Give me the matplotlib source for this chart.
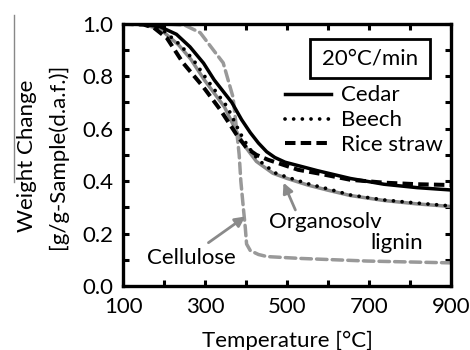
import matplotlib
matplotlib.use("Agg")
import matplotlib.pyplot as plt
from matplotlib.lines import Line2D
from matplotlib.patches import Rectangle
from matplotlib.ticker import MultipleLocator

plt.rcParams["font.family"] = ["Lato", "DejaVu Sans"]

# TG curves at 20 C/min, weight fraction on a dry ash-free basis
cedar_t = [100, 150, 190, 230, 263, 296, 322, 345, 365, 389, 410, 430, 450, 470, 495, 544, 573, 654, 736, 817, 900]
cedar_w = [1.0, 0.998, 0.989, 0.96, 0.912, 0.85, 0.786, 0.74, 0.70, 0.634, 0.585, 0.545, 0.512, 0.49, 0.472, 0.452, 0.44, 0.41, 0.388, 0.375, 0.366]

beech_t = [100, 150, 190, 239, 271, 305, 354, 385, 405, 430, 471, 500, 550, 600, 654, 736, 817, 900]
beech_w = [1.0, 0.998, 0.985, 0.92, 0.863, 0.786, 0.683, 0.584, 0.531, 0.48, 0.431, 0.415, 0.39, 0.37, 0.347, 0.328, 0.316, 0.305]

rice_t = [100, 150, 175, 207, 246, 295, 337, 380, 402, 425, 454, 527, 573, 654, 736, 817, 900]
rice_w = [1.0, 0.997, 0.985, 0.945, 0.851, 0.76, 0.672, 0.569, 0.525, 0.50, 0.481, 0.443, 0.43, 0.405, 0.394, 0.388, 0.385]

lignin_t = [100, 150, 190, 235, 265, 298, 347, 378, 398, 425, 465, 500, 550, 600, 654, 736, 817, 900]
lignin_w = [1.0, 0.997, 0.98, 0.92, 0.865, 0.786, 0.683, 0.584, 0.531, 0.475, 0.43, 0.41, 0.385, 0.365, 0.345, 0.326, 0.313, 0.303]

cellulose_t = [100, 200, 250, 288, 320, 344, 368, 375, 383, 387, 393, 398, 401, 410, 430, 451, 532, 695, 900]
cellulose_w = [1.0, 1.0, 0.995, 0.966, 0.90, 0.851, 0.72, 0.62, 0.50, 0.40, 0.30, 0.22, 0.16, 0.135, 0.12, 0.112, 0.105, 0.095, 0.088]

x_ticks = [100, 300, 500, 700, 900]
y_ticks = [0.0, 0.2, 0.4, 0.6, 0.8, 1.0]

FS = 16
GRAY = "#8a8a8a"

fig = plt.figure(figsize=(4.7, 3.5), dpi=100)
ax = fig.add_axes([0.262, 0.183, 0.698, 0.749])

ax.plot(lignin_t, lignin_w, color=GRAY, lw=2.5, solid_capstyle="round")
ax.plot(cellulose_t, cellulose_w, color="#999999", lw=2.5,
        linestyle=(0, (3.0, 1.5)), dash_capstyle="round")
ax.plot(cedar_t, cedar_w, color="black", lw=2.5, label="Cedar")
ax.plot(beech_t, beech_w, color="black", lw=2.7,
        linestyle=(0, (0.01, 2.3)), dash_capstyle="round", label="Beech")
ax.plot(rice_t, rice_w, color="black", lw=2.9,
        linestyle=(0, (2.6, 1.3)), label="Rice straw")

ax.set_xlim(100, 900)
ax.set_ylim(0, 1.0)
ax.set_xticks(x_ticks)
ax.set_yticks(y_ticks)
ax.set_yticklabels([f"{v:.1f}" for v in y_ticks])
ax.xaxis.set_minor_locator(MultipleLocator(100))
ax.yaxis.set_minor_locator(MultipleLocator(0.1))
ax.tick_params(which="both", direction="in", top=True, right=True,
               length=4.5, width=2.2, labelsize=FS)
ax.tick_params(axis="y", pad=7)
ax.tick_params(axis="x", pad=8)
for sp in ax.spines.values():
    sp.set_linewidth(2.4)

ax.set_xlabel("Temperature [°C]", fontsize=FS, labelpad=10)

# two-line y label, each line placed on its own
fig.text(27 / 470, 1 - 156 / 350, "Weight Change", fontsize=FS,
         rotation=90, ha="center", va="center")
fig.text(58 / 470, 1 - 156 / 350, "[g/g-Sample(d.a.f.)]", fontsize=FS,
         rotation=90, ha="center", va="center")

# heating-rate box
ax.add_patch(Rectangle((0.570, 0.794), 0.366, 0.149, transform=ax.transAxes,
                       fill=False, edgecolor="black", lw=2.0))
ax.text(0.753, 0.868, "20°C/min", transform=ax.transAxes, fontsize=FS,
        ha="center", va="center")

ax.legend(loc="upper left", bbox_to_anchor=(0.492, 0.765), frameon=False,
          fontsize=FS, handlelength=2.1, handletextpad=0.45,
          labelspacing=0.22, borderpad=0, borderaxespad=0)

arrow = dict(arrowstyle="-|>,head_length=0.6,head_width=0.3",
             color=GRAY, lw=2.0, shrinkA=0, shrinkB=0)
ax.annotate("", xy=(398, 0.265), xytext=(308, 0.165), arrowprops=arrow)
ax.text(267, 0.106, "Cellulose", fontsize=FS, ha="center", va="center")
ax.annotate("", xy=(491, 0.394), xytext=(520, 0.29), arrowprops=arrow)
ax.text(594, 0.245, "Organosolv", fontsize=FS, ha="center", va="center")
ax.text(768, 0.163, "lignin", fontsize=FS, ha="center", va="center")

fig.add_artist(Line2D([0.03, 0.03], [0.48, 0.957], transform=fig.transFigure,
                      color="#888888", lw=1.0))

fig.savefig("out.png", dpi=100)
